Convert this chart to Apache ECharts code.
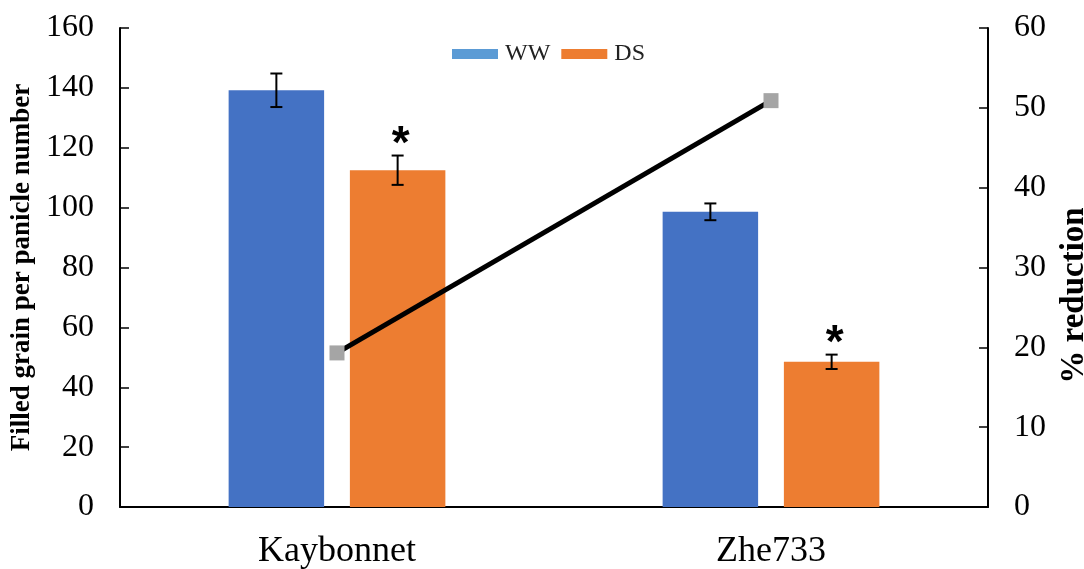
<!DOCTYPE html>
<html>
<head>
<meta charset="utf-8">
<script src="https://cdn.jsdelivr.net/npm/echarts@6/dist/echarts.min.js"></script>
<style>
html,body{margin:0;padding:0;background:#fff;}
#chart{width:1084px;height:569px;}
</style>
</head>
<body>
<div id="chart"></div>
<script>
const categories = ['Kaybonnet', 'Zhe733'];
const wwValues = [139.2, 98.6];
const wwErrors = [5.6, 2.8];
const dsValues = [112.5, 48.5];
const dsErrors = [4.9, 2.4];
const reductionValues = [19.3, 50.9];
const dsSignificance = ['*', '*'];
const leftTicks = { min: 0, max: 160, interval: 20 };
const rightTicks = { min: 0, max: 60, interval: 10 };

const BAR_W = 0.22, BAR_GAP = 0.27;
const serif = '"Liberation Serif", "Times New Roman", serif';

function errorSeries(values, errors, side, marks) {
  return {
    type: 'custom',
    yAxisIndex: 0,
    z: 5,
    data: values.map((v, i) => [i, v, errors[i]]),
    renderItem: function (params, api) {
      const i = api.value(0), v = api.value(1), e = api.value(2);
      const band = api.size([1, 0])[0];
      const off = side * band * BAR_W * (1 + BAR_GAP) / 2;
      const top = api.coord([i, v + e]);
      const bot = api.coord([i, v - e]);
      const x = top[0] + off;
      const cap = 6;
      const style = { stroke: '#000', lineWidth: 2 };
      const children = [
        { type: 'line', shape: { x1: x, y1: top[1], x2: x, y2: bot[1] }, style },
        { type: 'line', shape: { x1: x - cap, y1: top[1], x2: x + cap, y2: top[1] }, style },
        { type: 'line', shape: { x1: x - cap, y1: bot[1], x2: x + cap, y2: bot[1] }, style }
      ];
      if (marks && marks[i]) {
        children.push({
          type: 'text',
          style: {
            text: marks[i], x: x + 3, y: top[1] - 10,
            fill: '#000', font: 'bold 46px "Liberation Sans", Arial, sans-serif',
            textAlign: 'center', textVerticalAlign: 'middle'
          }
        });
      }
      return { type: 'group', children };
    }
  };
}

const chart = echarts.init(document.getElementById('chart'));
chart.setOption({
  animation: false,
  backgroundColor: '#fff',
  grid: { left: 120, right: 96, top: 28, bottom: 62, containLabel: false, outerBoundsMode: 'none' },
  legend: {
    data: [
      { name: 'WW', itemStyle: { color: '#5b9bd5' } },
      { name: 'DS', itemStyle: { color: '#ed7d31' } }
    ],
    left: 447, top: 37,
    itemWidth: 46, itemHeight: 10, itemGap: 11,
    icon: 'rect',
    textStyle: { fontFamily: serif, fontSize: 24, color: '#222', padding: [4, 0, 0, 2] }
  },
  xAxis: {
    type: 'category',
    data: categories,
    axisLine: { lineStyle: { color: '#000', width: 2 } },
    axisTick: { show: false },
    axisLabel: { fontFamily: serif, fontSize: 36, color: '#000', margin: 27 }
  },
  yAxis: [
    {
      type: 'value', min: leftTicks.min, max: leftTicks.max, interval: leftTicks.interval,
      name: 'Filled grain per panicle number', nameLocation: 'middle', nameRotate: 90, nameGap: 77,
      nameTextStyle: { fontFamily: serif, fontSize: 27, fontWeight: 'bold', color: '#000' },
      axisLine: { show: true, lineStyle: { color: '#000', width: 2 } },
      axisTick: { show: true, inside: true, length: 9, lineStyle: { color: '#000', width: 1.5 } },
      axisLabel: { fontFamily: serif, fontSize: 32, color: '#000', margin: 26 },
      splitLine: { show: false }
    },
    {
      type: 'value', min: rightTicks.min, max: rightTicks.max, interval: rightTicks.interval,
      name: '% reduction', nameLocation: 'middle', nameRotate: 90, nameGap: 70,
      nameTextStyle: { fontFamily: serif, fontSize: 33, fontWeight: 'bold', color: '#000', padding: [0, 56, 0, 0] },
      axisLine: { show: true, lineStyle: { color: '#000', width: 2 } },
      axisTick: { show: true, inside: true, length: 9, lineStyle: { color: '#000', width: 1.5 } },
      axisLabel: { fontFamily: serif, fontSize: 32, color: '#000', margin: 26 },
      splitLine: { show: false }
    }
  ],
  series: [
    {
      name: 'WW', type: 'bar', data: wwValues, yAxisIndex: 0,
      barWidth: (BAR_W * 100) + '%', barGap: (BAR_GAP * 100) + '%',
      itemStyle: { color: '#4472c4' }
    },
    {
      name: 'DS', type: 'bar', data: dsValues, yAxisIndex: 0,
      barWidth: (BAR_W * 100) + '%', barGap: (BAR_GAP * 100) + '%',
      itemStyle: { color: '#ed7d31' }
    },
    errorSeries(wwValues, wwErrors, -1, null),
    errorSeries(dsValues, dsErrors, 1, dsSignificance),
    {
      name: '% reduction', type: 'line', data: reductionValues, yAxisIndex: 1, z: 10,
      symbol: 'rect', symbolSize: 15,
      lineStyle: { color: '#000', width: 5 },
      itemStyle: { color: '#a5a5a5' }
    }
  ]
});
</script>
</body>
</html>
